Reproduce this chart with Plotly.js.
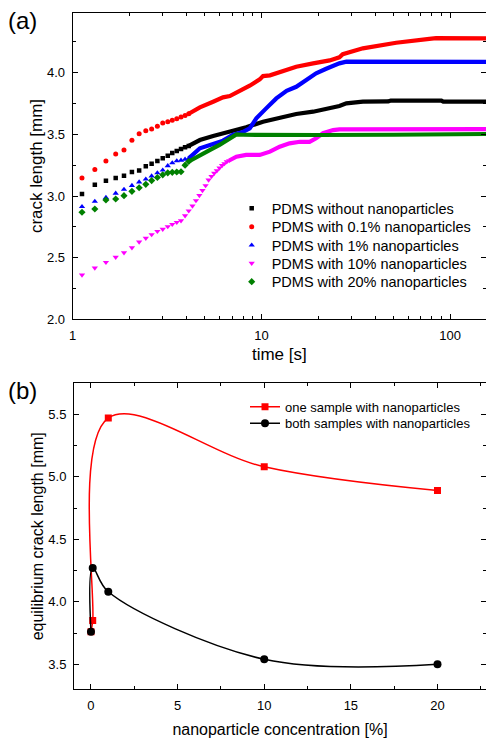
<!DOCTYPE html>
<html><head><meta charset="utf-8">
<script src="https://cdn.plot.ly/plotly-3.0.1.min.js"></script>
<style>html,body{margin:0;padding:0;background:#fff;} #chart{width:486px;height:738px;}</style>
</head><body><div id="chart"></div>
<script>
const FONT = 'Liberation Sans, Arial, Helvetica, sans-serif';

// ---------- panel (a): crack length vs time ----------
const seriesNames = [
  'PDMS without nanoparticles',
  'PDMS with 0.1% nanoparticles',
  'PDMS with 1% nanoparticles',
  'PDMS with 10% nanoparticles',
  'PDMS with 20% nanoparticles'
];
const seriesColors = ['#000000', '#ff0000', '#0000ff', '#ff00ff', '#008000'];
const seriesSymbols = ['square', 'circle', 'triangle-up', 'triangle-down', 'diamond'];

// early (individually visible) points
const timeEarly = [1.12, 1.31, 1.50, 1.69, 1.87, 2.06, 2.25, 2.44, 2.62, 2.81, 3.00, 3.19, 3.37, 3.56, 3.75, 3.94, 4.12];
const timeEarlyMagenta = [1.12, 1.31, 1.50, 1.69, 1.87, 2.06, 2.25, 2.44, 2.62, 2.81, 3.00, 3.19, 3.37, 3.56, 3.75, 3.94, 4.12,
  4.31, 4.50, 4.69, 4.87, 5.06, 5.25, 5.44, 5.62, 5.81, 6.00, 6.19, 6.37, 6.56, 6.75];
const blackEarly = [3.016, 3.092, 3.124, 3.146, 3.165, 3.195, 3.208, 3.241, 3.262, 3.284, 3.306, 3.327, 3.349, 3.365, 3.381, 3.395, 3.406];
const redEarly = [3.146, 3.216, 3.284, 3.341, 3.373, 3.452, 3.505, 3.530, 3.543, 3.565, 3.592, 3.603, 3.614, 3.627, 3.641, 3.654, 3.667];
const blueEarly = [2.913, 2.956, 2.988, 3.022, 3.053, 3.085, 3.113, 3.137, 3.162, 3.187, 3.210, 3.245, 3.268, 3.285, 3.290, 3.298, 3.305];
const magentaEarly = [2.360, 2.417, 2.462, 2.504, 2.540, 2.581, 2.627, 2.658, 2.687, 2.714, 2.731, 2.752, 2.770, 2.787, 2.800, 2.840,
  2.880, 2.920, 2.963, 3.005, 3.045, 3.085, 3.130, 3.160, 3.185, 3.205, 3.228, 3.248, 3.263, 3.278, 3.288];
const greenEarly = [2.868, 2.895, 2.968, 2.976, 3.003, 3.038, 3.067, 3.095, 3.125, 3.150, 3.172, 3.188, 3.192, 3.195, 3.197, 3.250, 3.280];

// later (dense, merged) part of each series
const blackLateT = [4.12, 4.72, 5.55, 6.8, 8.3, 10.2, 12.5, 15.3, 18.8, 23.0, 25.9, 28.2, 34.5, 47.0, 48.5, 90, 92, 155];
const blackLateY = [3.406, 3.454, 3.487, 3.521, 3.557, 3.603, 3.638, 3.665, 3.684, 3.715, 3.730, 3.752, 3.765, 3.767, 3.775, 3.774, 3.766, 3.765];
const redLateT = [4.12, 4.72, 5.55, 6.26, 6.8, 7.68, 8.67, 9.8, 10.2, 11.1, 12.5, 15.3, 18.8, 23.0, 25.9, 27.0, 34.5, 51.8, 77.6, 84.3, 155];
const redLateY = [3.667, 3.719, 3.765, 3.800, 3.811, 3.852, 3.895, 3.946, 3.973, 3.979, 4.008, 4.049, 4.076, 4.100, 4.125, 4.150, 4.198, 4.243, 4.275, 4.280, 4.278];
const blueLateT = [4.12, 4.72, 5.55, 6.26, 7.08, 8.0, 8.67, 9.4, 10.6, 12.0, 13.6, 15.3, 17.3, 19.5, 21.9, 23.0, 25.9, 28.2, 155];
const blueLateY = [3.305, 3.387, 3.422, 3.449, 3.497, 3.520, 3.549, 3.630, 3.711, 3.792, 3.854, 3.886, 3.941, 3.995, 4.030, 4.045, 4.076, 4.090, 4.088];
const magentaLateT = [6.75, 7.37, 8.3, 9.8, 11.1, 12.5, 14.1, 16.0, 18.0, 19.5, 21.2, 24.0, 25.9, 155];
const magentaLateY = [3.288, 3.319, 3.333, 3.333, 3.360, 3.400, 3.427, 3.440, 3.440, 3.468, 3.509, 3.535, 3.541, 3.543];
const greenLateT = [4.12, 4.72, 5.32, 6.0, 6.8, 7.37, 8.0, 10, 20, 50, 100, 155];
const greenLateY = [3.280, 3.333, 3.373, 3.414, 3.468, 3.500, 3.497, 3.495, 3.495, 3.497, 3.500, 3.503];

// ---------- panel (b): equilibrium crack length ----------
const concentration = [0, 0.1, 1, 10, 20];
const oneSample = [3.76, 3.85, 5.47, 5.08, 4.89];
const bothSamples = [3.76, 4.27, 4.08, 3.54, 3.50];
const bNames = ['one sample with nanoparticles', 'both samples with nanoparticles'];

const earlyX = [timeEarly, timeEarly, timeEarly, timeEarlyMagenta, timeEarly];
const earlyY = [blackEarly, redEarly, blueEarly, magentaEarly, greenEarly];
const lateX = [blackLateT, redLateT, blueLateT, magentaLateT, greenLateT];
const lateY = [blackLateY, redLateY, blueLateY, magentaLateY, greenLateY];
const markerSizes = [4.5, 5, 5.5, 5.5, 5.5];

const legendIds = ['legend', 'legend2', 'legend3', 'legend4', 'legend5'];
const traces = [];
for (let i = 0; i < 5; i++) {
  traces.push({
    type: 'scatter', mode: 'lines', x: lateX[i], y: lateY[i], xaxis: 'x', yaxis: 'y',
    line: {color: seriesColors[i], width: 4.2}, showlegend: false, hoverinfo: 'skip'
  });
  traces.push({
    type: 'scatter', mode: 'markers', x: earlyX[i], y: earlyY[i], xaxis: 'x', yaxis: 'y',
    name: seriesNames[i], legend: legendIds[i],
    marker: {color: seriesColors[i], symbol: seriesSymbols[i], size: markerSizes[i], line: {width: 0}}
  });
}
traces.push({
  type: 'scatter', mode: 'lines+markers', x: concentration, y: oneSample, xaxis: 'x2', yaxis: 'y2',
  name: bNames[0], legend: 'legend6',
  line: {color: '#ff0000', width: 1.5, shape: 'spline', smoothing: 1},
  marker: {color: '#ff0000', symbol: 'square', size: 7}
});
traces.push({
  type: 'scatter', mode: 'lines+markers', x: concentration, y: bothSamples, xaxis: 'x2', yaxis: 'y2',
  name: bNames[1], legend: 'legend7',
  line: {color: '#000000', width: 1.5, shape: 'spline', smoothing: 1},
  marker: {color: '#000000', symbol: 'circle', size: 8}
});

const W = 486, H = 738;
const px = v => v / W;
const py = v => 1 - v / H;

function axisBase(extra) {
  return Object.assign({
    showline: true, linecolor: '#000', linewidth: 1, mirror: 'ticks',
    ticks: 'inside', ticklen: 5, tickwidth: 1, tickcolor: '#000',
    showgrid: false, zeroline: false,
    tickfont: {family: FONT, size: 13, color: '#000'},
    ticklabelstandoff: 4
  }, extra);
}

function legendAt(x, y, size) {
  return {x: x, y: y, xanchor: 'left', yanchor: 'middle', bgcolor: 'rgba(0,0,0,0)',
    borderwidth: 0, font: {family: FONT, size: size, color: '#000'}};
}

const layout = {
  width: W, height: H,
  margin: {l: 0, r: 0, t: 0, b: 0},
  paper_bgcolor: '#fff', plot_bgcolor: '#fff',
  font: {family: FONT, color: '#000'},
  showlegend: true,
  xaxis: axisBase({
    type: 'log', range: [0, Math.log10(155)], domain: [px(72.7), 1], anchor: 'y',
    dtick: 1, minor: {dtick: 'D1', ticks: 'inside', ticklen: 3, tickcolor: '#000', showgrid: false},
    title: {text: 'time [s]', font: {family: FONT, size: 17, color: '#000'}, standoff: 6}
  }),
  yaxis: axisBase({
    range: [2.0, 4.487], domain: [py(319.3), py(12.7)], anchor: 'x',
    dtick: 0.5, tickformat: '.1f',
    minor: {dtick: 0.25, ticks: 'inside', ticklen: 3, tickcolor: '#000', showgrid: false},
    title: {text: 'crack length [mm]', font: {family: FONT, size: 17, color: '#000'}, standoff: 0}
  }),
  xaxis2: axisBase({
    range: [-0.98, 22.8], domain: [px(74), 1], anchor: 'y2',
    dtick: 5, minor: {dtick: 2.5, ticks: 'inside', ticklen: 3, tickcolor: '#000', showgrid: false},
    title: {text: 'nanoparticle concentration [%]', font: {family: FONT, size: 16, color: '#000'}, standoff: 13}
  }),
  yaxis2: axisBase({
    range: [3.3, 5.748], domain: [py(689.3), py(383.3)], anchor: 'x2',
    dtick: 0.5, tickformat: '.1f',
    minor: {dtick: 0.25, ticks: 'inside', ticklen: 3, tickcolor: '#000', showgrid: false},
    title: {text: 'equilibrium crack length [mm]', font: {family: FONT, size: 16, color: '#000'}, standoff: 0}
  }),
  legend: legendAt(px(231.7), py(208.3), 14.5),
  legend2: legendAt(px(231.7), py(226.7), 14.5),
  legend3: legendAt(px(231.7), py(245.3), 14.5),
  legend4: legendAt(px(231.7), py(263.3), 14.5),
  legend5: legendAt(px(231.7), py(281.7), 14.5),
  legend6: legendAt(px(245), py(406.7), 13),
  legend7: legendAt(px(245), py(423.3), 13),
  annotations: [
    {text: '(a)', xref: 'paper', yref: 'paper', x: px(22.8), y: py(20.8), xanchor: 'center', yanchor: 'middle',
      showarrow: false, font: {family: FONT, size: 24, color: '#000'}},
    {text: '(b)', xref: 'paper', yref: 'paper', x: px(22.8), y: py(390.8), xanchor: 'center', yanchor: 'middle',
      showarrow: false, font: {family: FONT, size: 24, color: '#000'}}
  ]
};

Plotly.newPlot('chart', traces, layout, {displayModeBar: false, staticPlot: true});
</script>
</body></html>
